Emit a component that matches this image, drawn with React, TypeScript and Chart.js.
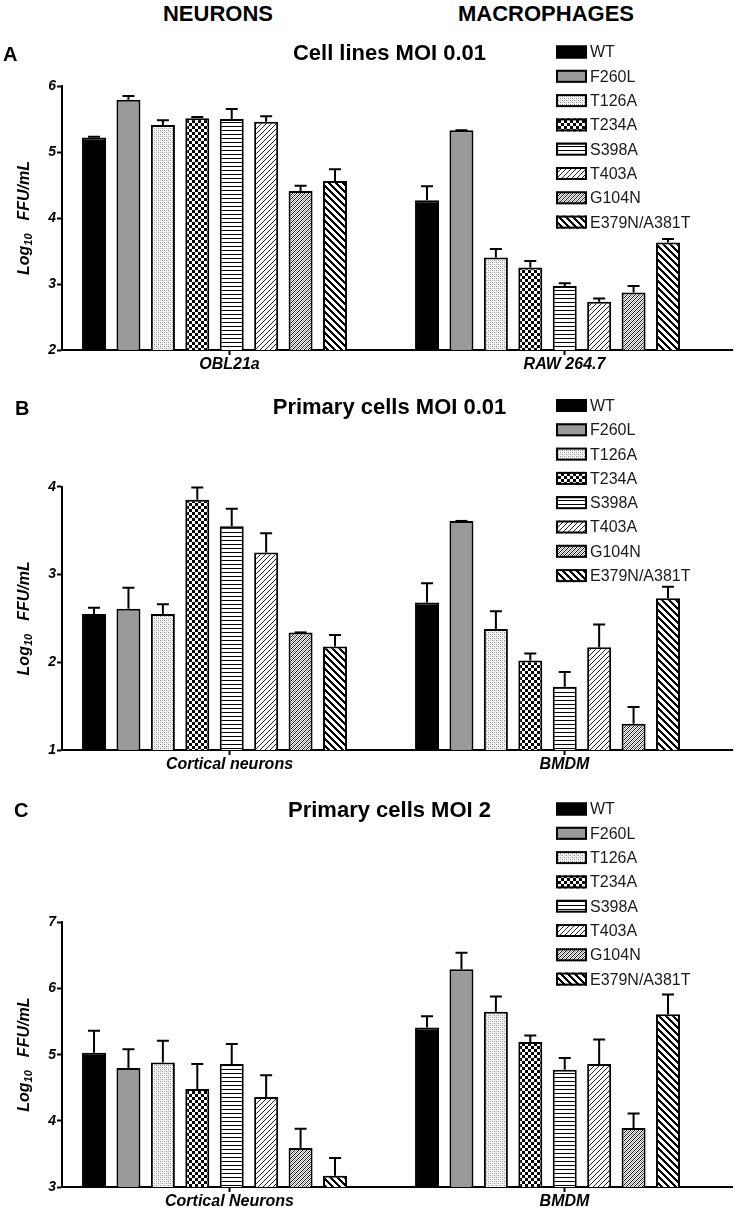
import React, { useEffect, useRef } from 'react';
import { Chart, registerables } from 'chart.js';

Chart.register(...registerables);

const FONT = '"Liberation Sans", Arial, Helvetica, sans-serif';

// ---- data ----
const SERIES_LABELS = ['WT', 'F260L', 'T126A', 'T234A', 'S398A', 'T403A', 'G104N', 'E379N/A381T'];

// Panel A: Cell lines MOI 0.01
const A_CATEGORIES = ['OBL21a', 'RAW 264.7'];
const A_NEURON_MEANS = [5.22, 5.79, 5.41, 5.51, 5.5, 5.46, 4.41, 4.56];
const A_NEURON_ERR = [0.01, 0.06, 0.07, 0.02, 0.15, 0.08, 0.08, 0.18];
const A_MACRO_MEANS = [4.27, 5.33, 3.4, 3.25, 2.97, 2.73, 2.87, 3.63];
const A_MACRO_ERR = [0.21, 0.0, 0.13, 0.1, 0.04, 0.05, 0.1, 0.05];
const A_Y_RANGE = [2, 6];

// Panel B: Primary cells MOI 0.01
const B_CATEGORIES = ['Cortical neurons', 'BMDM'];
const B_NEURON_MEANS = [2.55, 2.61, 2.55, 3.85, 3.55, 3.25, 2.34, 2.18];
const B_NEURON_ERR = [0.07, 0.24, 0.11, 0.14, 0.2, 0.22, 0.0, 0.13];
const B_MACRO_MEANS = [2.68, 3.61, 2.38, 2.02, 1.72, 2.17, 1.3, 2.73];
const B_MACRO_ERR = [0.22, 0.0, 0.2, 0.08, 0.17, 0.26, 0.19, 0.13];
const B_Y_RANGE = [1, 4];

// Panel C: Primary cells MOI 2
const C_CATEGORIES = ['Cortical Neurons', 'BMDM'];
const C_NEURON_MEANS = [5.03, 4.8, 4.88, 4.48, 4.86, 4.36, 3.59, 3.17];
const C_NEURON_ERR = [0.33, 0.28, 0.33, 0.38, 0.3, 0.33, 0.29, 0.27];
const C_MACRO_MEANS = [5.41, 6.29, 5.65, 5.19, 4.77, 4.86, 3.89, 5.61];
const C_MACRO_ERR = [0.17, 0.25, 0.23, 0.1, 0.18, 0.37, 0.22, 0.3];
const C_Y_RANGE = [3, 7];

// ---- layout ----
const TITLE_SIZE = 22;
const XB_MIN = -0.458;
const XB_MAX = 1.554;

type PanelCfg = {
  letter: string;
  title: string;
  categories: string[];
  neuron: number[];
  neuronErr: number[];
  macro: number[];
  macroErr: number[];
  yRange: number[];
  top: number;
  height: number;
  padTop: number;
  padBottom: number;
};

const PANELS: PanelCfg[] = [
  {
    letter: 'A', title: 'Cell lines MOI 0.01', categories: A_CATEGORIES,
    neuron: A_NEURON_MEANS, neuronErr: A_NEURON_ERR, macro: A_MACRO_MEANS, macroErr: A_MACRO_ERR,
    yRange: A_Y_RANGE, top: 30, height: 345, padTop: 10.8, padBottom: 18.8,
  },
  {
    letter: 'B', title: 'Primary cells MOI 0.01', categories: B_CATEGORIES,
    neuron: B_NEURON_MEANS, neuronErr: B_NEURON_ERR, macro: B_MACRO_MEANS, macroErr: B_MACRO_ERR,
    yRange: B_Y_RANGE, top: 380, height: 395, padTop: 14.3, padBottom: 66,
  },
  {
    letter: 'C', title: 'Primary cells MOI 2', categories: C_CATEGORIES,
    neuron: C_NEURON_MEANS, neuronErr: C_NEURON_ERR, macro: C_MACRO_MEANS, macroErr: C_MACRO_ERR,
    yRange: C_Y_RANGE, top: 785, height: 427, padTop: 12.8, padBottom: 98.1,
  },
];

// ---- fills (patterns) ----
function tile(w: number, h: number, draw: (g: CanvasRenderingContext2D) => void): CanvasPattern | string {
  const c = document.createElement('canvas');
  c.width = w;
  c.height = h;
  const g = c.getContext('2d');
  if (!g) return '#fff';
  g.fillStyle = '#ffffff';
  g.fillRect(0, 0, w, h);
  draw(g);
  return g.createPattern(c, 'repeat') || '#fff';
}
function px(g: CanvasRenderingContext2D, x: number, y: number, c: string) {
  g.fillStyle = c;
  g.fillRect(x, y, 1, 1);
}
function buildFills(): (string | CanvasPattern)[] {
  return [
    '#000000',
    '#9a9a9a',
    tile(4, 4, (g) => {
      px(g, 0, 0, '#8a8a8a'); px(g, 2, 2, '#8a8a8a');
      px(g, 2, 0, '#bdbdbd'); px(g, 0, 2, '#bdbdbd');
      px(g, 1, 1, '#dcdcdc'); px(g, 3, 3, '#dcdcdc');
    }),
    tile(6, 6, (g) => { g.fillStyle = '#000'; g.fillRect(0, 0, 3, 3); g.fillRect(3, 3, 3, 3); }),
    tile(4, 4, (g) => { g.fillStyle = '#000'; g.fillRect(0, 0, 4, 1); }),
    tile(5, 5, (g) => { for (let i = 0; i < 5; i++) px(g, i, 4 - i, '#222'); }),
    tile(4, 4, (g) => { for (let i = 0; i < 4; i++) { px(g, i, 3 - i, '#111'); px(g, i, (5 - i) % 4, '#9a9a9a'); } }),
    tile(7, 7, (g) => { for (let i = 0; i < 7; i++) for (let k = 0; k < 3; k++) px(g, (i + k) % 7, i, '#000'); }),
  ];
}

// ---- plugins ----
const errorBarsPlugin = {
  id: 'errorBars',
  afterDatasetsDraw(chart: any) {
    const ctx = chart.ctx;
    const y = chart.scales.y;
    chart.data.datasets.forEach((ds: any, di: number) => {
      const meta = chart.getDatasetMeta(di);
      meta.data.forEach((bar: any, i: number) => {
        const v = ds.data[i].y;
        const err = ds.errors[i];
        const top = y.getPixelForValue(v + err);
        const half = bar.width * 0.25;
        ctx.save();
        ctx.strokeStyle = '#000';
        ctx.lineWidth = 2;
        ctx.beginPath();
        ctx.moveTo(bar.x, bar.y);
        ctx.lineTo(bar.x, top);
        ctx.moveTo(bar.x - half, top);
        ctx.lineTo(bar.x + half, top);
        ctx.stroke();
        ctx.restore();
      });
    });
  },
};

const legendPlugin = {
  id: 'patternLegend',
  afterDraw(chart: any, _args: any, opts: any) {
    const { ctx, chartArea } = chart;
    const tb = chart.titleBlock;
    const titleCenter = tb.top + opts.padTop + (TITLE_SIZE * 1.2) / 2;
    const x0 = chartArea.right - 176;
    chart.data.datasets.forEach((ds: any, i: number) => {
      const cy = titleCenter - 2 + i * 24.3;
      ctx.save();
      ctx.fillStyle = ds.backgroundColor;
      ctx.fillRect(x0, cy - 6.5, 31, 13);
      ctx.strokeStyle = '#000';
      ctx.lineWidth = 2;
      ctx.strokeRect(x0 + 1, cy - 5.5, 29, 11);
      ctx.fillStyle = '#1a1a1a';
      ctx.font = `16px ${FONT}`;
      ctx.textBaseline = 'middle';
      ctx.textAlign = 'left';
      ctx.fillText(ds.label, x0 + 34, cy + 1);
      ctx.restore();
    });
  },
};

const yTitlePlugin = {
  id: 'yTitle',
  afterDraw(chart: any) {
    const { ctx, chartArea } = chart;
    const cx = chartArea.left - 37;
    const cy = (chartArea.top + chartArea.bottom) / 2;
    const main = `italic bold 16px ${FONT}`;
    const sub = `italic bold 11px ${FONT}`;
    const parts: [string, string, number, number][] = [
      ['Log', main, 0, 0],
      ['10', sub, 4, 13],
      ['FFU/mL', main, 0, 0],
    ];
    ctx.save();
    ctx.translate(cx, cy);
    ctx.rotate(-Math.PI / 2);
    ctx.fillStyle = '#000';
    ctx.textBaseline = 'middle';
    ctx.textAlign = 'left';
    let total = 0;
    for (const [t, f, , gap] of parts) {
      ctx.font = f;
      total += ctx.measureText(t).width + gap;
    }
    let x = -total / 2;
    for (const [t, f, dy, gap] of parts) {
      ctx.font = f;
      ctx.fillText(t, x, dy);
      x += ctx.measureText(t).width + gap;
    }
    ctx.restore();
  },
};

function Panel({ cfg }: { cfg: PanelCfg }) {
  const ref = useRef<HTMLCanvasElement>(null);
  useEffect(() => {
    if (!ref.current) return;
    const fills = buildFills();
    const datasets = SERIES_LABELS.map((label, s) => ({
      label,
      data: [
        { x: 0, y: cfg.neuron[s] },
        { x: 1, y: cfg.macro[s] },
      ],
      errors: [cfg.neuronErr[s], cfg.macroErr[s]],
      backgroundColor: fills[s],
      borderColor: '#000',
      borderWidth: 2,
      xAxisID: 'xb',
      yAxisID: 'y',
      categoryPercentage: 0.827,
      barPercentage: 0.697,
    }));
    const chart = new Chart(ref.current, {
      type: 'bar',
      data: { labels: cfg.categories, datasets: datasets as any },
      options: {
        responsive: false,
        animation: false,
        layout: { padding: { left: 47, right: 7, top: 0, bottom: 0 } },
        scales: {
          x: {
            type: 'category',
            offset: true,
            grid: {
              display: true,
              drawOnChartArea: false,
              offset: false,
              drawTicks: true,
              tickLength: 5,
              tickWidth: 2,
              tickColor: '#000',
            },
            border: { display: true, width: 2, color: '#000' },
            ticks: {
              font: { family: FONT, size: 16, weight: 'bold', style: 'italic' },
              color: '#000',
              padding: 0,
              maxRotation: 0,
              autoSkip: false,
            },
            afterFit: (s: any) => { s.height = 25; },
          },
          xb: {
            type: 'linear',
            display: false,
            min: XB_MIN,
            max: XB_MAX,
            offset: false,
            ticks: { stepSize: 1, includeBounds: false },
            grid: { offset: false },
          },
          y: {
            type: 'linear',
            min: cfg.yRange[0],
            max: cfg.yRange[1],
            beginAtZero: false,
            ticks: {
              stepSize: 1,
              font: { family: FONT, size: 14, weight: 'bold', style: 'italic' },
              color: '#000',
              padding: 1,
            },
            grid: {
              drawOnChartArea: false,
              tickLength: 5,
              tickWidth: 2,
              tickColor: '#000',
            },
            border: { display: true, width: 2, color: '#000' },
            afterFit: (s: any) => { s.width = 15; },
          },
        } as any,
        plugins: {
          legend: { display: false },
          tooltip: { enabled: false },
          title: {
            display: true,
            text: cfg.title,
            color: '#000',
            font: { family: FONT, size: TITLE_SIZE, weight: 'bold' },
            padding: { top: cfg.padTop, bottom: cfg.padBottom },
          },
          patternLegend: { padTop: cfg.padTop },
        } as any,
      },
      plugins: [errorBarsPlugin, legendPlugin, yTitlePlugin],
    });
    return () => chart.destroy();
  }, [cfg]);
  return (
    <canvas
      ref={ref}
      width={739}
      height={cfg.height}
      style={{ position: 'absolute', left: 0, top: cfg.top, width: 739, height: cfg.height }}
    />
  );
}

const LETTER_POS: Record<string, { left: number; top: number }> = {
  A: { left: 3, top: 41.5 },
  B: { left: 15, top: 395.5 },
  C: { left: 14, top: 798 },
};

export default function App() {
  return (
    <div
      style={{
        position: 'absolute', left: 0, top: 0, width: 739, height: 1212,
        background: '#fff', fontFamily: FONT, overflow: 'hidden',
      }}
    >
      {PANELS.map((p) => (
        <Panel key={p.letter} cfg={p} />
      ))}
      <div style={{ position: 'absolute', left: 118, top: 0, width: 200, textAlign: 'center', fontWeight: 'bold', fontSize: 22, lineHeight: '27px', color: '#000' }}>
        NEURONS
      </div>
      <div style={{ position: 'absolute', left: 426, top: 0, width: 240, textAlign: 'center', fontWeight: 'bold', fontSize: 22, lineHeight: '27px', color: '#000' }}>
        MACROPHAGES
      </div>
      {PANELS.map((p) => (
        <div
          key={'L' + p.letter}
          style={{
            position: 'absolute', left: LETTER_POS[p.letter].left, top: LETTER_POS[p.letter].top,
            fontWeight: 'bold', fontSize: 20, lineHeight: '24px', color: '#000',
          }}
        >
          {p.letter}
        </div>
      ))}
    </div>
  );
}
